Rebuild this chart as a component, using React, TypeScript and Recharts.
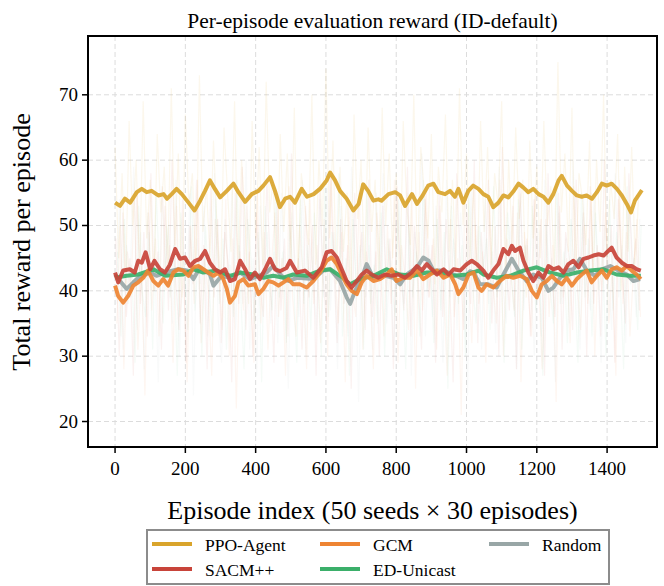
import React from 'react';
import { LineChart, Line, XAxis, YAxis, CartesianGrid } from 'recharts';

const FONT = '"Times New Roman", "Liberation Serif", Times, serif';

// Axis ticks
const xTicks = [0, 200, 400, 600, 800, 1000, 1200, 1400];
const yTicks = [20, 30, 40, 50, 60, 70];

// Raw per-episode rewards, sampled every RAW_STEP episodes (each method starts at its own offset)
const RAW_STEP = 10;
const ppoRaw = [
  62, 45, 58, 41, 66, 50, 60, 43, 69, 48, 57, 40, 64, 52, 59,
  44, 71, 47, 61, 39, 67, 53, 58, 42, 73, 49, 56, 45, 63, 50,
  41, 65, 55, 46, 69, 43, 60, 51, 38, 66, 48, 62, 44, 72, 52,
  57, 40, 64, 49, 61, 45, 68, 42, 58, 53, 47, 70, 44, 60, 50,
  74, 48, 63, 41, 59, 46, 55, 39, 67, 51, 60, 43, 65, 49, 57,
  42, 68, 50, 61, 45, 58, 40, 66, 53, 47, 70, 44, 62, 55, 48,
  64, 41, 59, 52, 67, 46, 57, 43, 71, 50, 61, 45, 56, 40, 66,
  49, 62, 44, 58, 53, 69, 42, 60, 47, 65, 51, 57, 39, 63, 48,
  59, 45, 66, 50, 56, 43, 75, 52, 61, 46, 68, 41, 58, 54, 47,
  63, 42, 60, 49, 70, 45, 57, 51, 64, 40, 59, 46, 62, 44, 55,
];
const sacmRaw = [
  48, 30, 52, 36, 45, 27, 55, 38, 49, 33, 58, 40, 46, 31, 53,
  37, 60, 42, 34, 54, 29, 50, 41, 57, 35, 47, 28, 56, 39, 51,
  32, 49, 44, 26, 55, 38, 59, 34, 46, 30, 52, 41, 36, 57, 43,
  29, 54, 37, 48, 33, 61, 40, 45, 31, 53, 39, 50, 27, 56, 42,
  35, 58, 44, 32, 51, 38, 47, 25, 55, 41, 49, 34, 57, 36, 46,
  30, 53, 40, 48, 28, 56, 43, 37, 59, 33, 50, 42, 31, 54, 39,
  47, 29, 55, 36, 51, 41, 26, 58, 44, 34, 52, 38, 60, 32, 49,
  40, 57, 35, 50, 30, 62, 45, 37, 53, 28, 56, 42, 48, 33, 54,
  39, 51, 27, 58, 43, 36, 55, 31, 49, 45, 34, 57, 40, 52, 30,
  56, 38, 47, 33, 60, 41, 50, 29, 54, 44, 35, 58, 42, 48, 37,
];
const gcmRaw = [
  35, 50, 28, 46, 39, 55, 31, 44, 24, 52, 37, 48, 33, 56, 40,
  47, 29, 53, 36, 42, 26, 50, 38, 57, 32, 45, 40, 27, 51, 43,
  34, 54, 30, 48, 22, 46, 37, 53, 41, 29, 55, 35, 49, 31, 44,
  52, 36, 45, 27, 56, 39, 33, 50, 42, 28, 54, 38, 47, 32, 51,
  30, 58, 43, 35, 49, 26, 53, 40, 36, 55, 31, 46, 41, 28, 52,
  44, 33, 50, 38, 57, 29, 47, 42, 34, 54, 25, 49, 37, 56, 39,
  48, 31, 53, 40, 27, 51, 36, 45, 21, 55, 43, 32, 50, 38, 46,
  29, 54, 41, 35, 57, 30, 48, 44, 37, 52, 26, 49, 40, 33, 55,
  42, 28, 51, 36, 47, 23, 53, 39, 45, 32, 56, 41, 34, 50, 38,
  55, 30, 46, 40, 52, 35, 44, 27, 57, 38, 49, 33, 43, 51, 36,
];
const edRaw = [
  46, 33, 51, 38, 44, 29, 53, 40, 36, 49, 31, 55, 42, 35, 50,
  39, 47, 27, 52, 43, 34, 56, 37, 45, 30, 50, 41, 33, 54, 38,
  48, 31, 44, 36, 57, 40, 28, 51, 45, 35, 49, 26, 53, 42, 37,
  55, 39, 46, 32, 50, 43, 29, 54, 38, 47, 34, 52, 41, 30, 56,
  36, 49, 42, 58, 33, 45, 27, 51, 40, 47, 31, 55, 38, 44, 35,
  52, 30, 48, 41, 36, 54, 43, 28, 50, 39, 46, 33, 57, 40, 45,
  32, 51, 37, 49, 25, 53, 44, 38, 47, 30, 55, 41, 35, 50, 43,
  48, 34, 56, 39, 45, 29, 52, 42, 36, 54, 31, 47, 40, 53, 37,
  44, 27, 50, 41, 35, 57, 38, 46, 32, 51, 43, 29, 55, 39, 48,
  33, 52, 40, 46, 30, 54, 37, 49, 42, 28, 56, 41, 45, 34, 50,
];
const randomRaw = [
  38, 54, 31, 47, 42, 59, 34, 49, 28, 52, 40, 45, 26, 56, 43,
  50, 35, 57, 30, 46, 39, 55, 24, 48, 41, 53, 33, 44, 58, 36,
  29, 51, 42, 56, 34, 47, 38, 60, 31, 45, 27, 53, 40, 49, 35,
  46, 32, 55, 41, 25, 52, 44, 36, 57, 30, 48, 43, 34, 54, 39,
  56, 37, 49, 28, 53, 42, 33, 59, 45, 23, 50, 39, 47, 31, 55,
  41, 58, 35, 46, 30, 51, 44, 38, 55, 27, 49, 42, 61, 33, 47,
  36, 53, 43, 29, 57, 39, 48, 34, 52, 44, 24, 56, 40, 50, 31,
  54, 38, 46, 32, 59, 41, 35, 50, 43, 28, 55, 37, 47, 42, 30,
  49, 33, 57, 40, 45, 26, 52, 38, 48, 35, 60, 43, 31, 54, 41,
  37, 55, 44, 29, 50, 42, 34, 58, 39, 47, 32, 53, 45, 36, 51,
];

// Smoothed reward curves: [episode, reward]
const ppoSmooth: [number, number][] = [
  [0, 53.5], [14, 53.0], [28, 54.1], [43, 53.5], [62, 55.1], [76, 55.6], [90, 55.1], [104, 55.3],
  [123, 54.6], [138, 54.8], [148, 54.1], [161, 54.8], [175, 55.6], [190, 54.8], [209, 53.5], [226, 52.3],
  [242, 53.8], [256, 55.3], [270, 56.9], [284, 55.6], [299, 54.3], [318, 55.3], [337, 56.4], [351, 55.1],
  [370, 53.6], [389, 54.8], [408, 55.3], [422, 56.1], [441, 57.4], [455, 55.3], [469, 52.8], [484, 54.1],
  [498, 54.4], [512, 53.5], [531, 55.6], [546, 54.4], [565, 54.8], [583, 55.6], [602, 56.9], [612, 58.1],
  [626, 56.9], [640, 55.3], [659, 54.1], [678, 52.3], [693, 53.3], [706, 56.3], [720, 55.3], [735, 53.8],
  [749, 54.0], [758, 53.8], [778, 54.8], [797, 55.1], [811, 54.6], [825, 53.0], [845, 54.8], [859, 53.3],
  [873, 54.4], [891, 56.1], [906, 56.4], [920, 55.1], [939, 54.8], [953, 55.3], [967, 54.4], [977, 55.6],
  [991, 53.5], [1005, 55.3], [1019, 56.1], [1034, 55.6], [1048, 54.8], [1062, 54.4], [1076, 52.8], [1091, 53.5],
  [1105, 54.6], [1119, 54.3], [1133, 55.2], [1148, 56.4], [1162, 55.8], [1176, 55.1], [1190, 55.6], [1205, 54.8],
  [1219, 54.4], [1233, 53.5], [1247, 54.8], [1262, 56.9], [1271, 57.6], [1286, 56.1], [1300, 55.3], [1314, 54.6],
  [1328, 54.4], [1342, 54.6], [1357, 54.1], [1371, 55.1], [1385, 56.4], [1399, 56.1], [1413, 56.4], [1428, 55.6],
  [1442, 54.6], [1456, 53.3], [1468, 52.0], [1479, 53.8], [1489, 54.6], [1499, 55.4],
];
const sacmSmooth: [number, number][] = [
  [0, 42.8], [9, 41.3], [23, 43.1], [42, 43.3], [56, 42.8], [66, 44.6], [76, 44.3], [87, 45.9],
  [100, 43.3], [112, 44.6], [128, 43.3], [142, 42.8], [156, 44.0], [171, 46.4], [185, 44.9], [199, 45.1],
  [213, 43.8], [228, 44.6], [242, 44.9], [256, 46.1], [270, 44.3], [284, 43.3], [299, 42.8], [313, 43.3],
  [327, 41.5], [341, 41.8], [356, 44.6], [370, 43.3], [384, 41.8], [398, 42.8], [412, 41.8], [427, 43.3],
  [441, 44.9], [455, 43.3], [469, 43.0], [488, 43.5], [498, 44.6], [517, 42.8], [540, 43.1], [564, 42.0],
  [588, 43.6], [602, 45.9], [616, 46.1], [631, 45.1], [645, 43.3], [659, 41.5], [673, 40.5], [688, 41.5],
  [702, 42.5], [716, 43.1], [730, 42.5], [749, 42.0], [768, 42.5], [787, 42.3], [806, 42.5], [825, 42.0],
  [844, 42.8], [859, 43.8], [873, 43.1], [887, 44.1], [901, 43.3], [916, 42.5], [935, 43.3], [949, 42.5],
  [963, 43.3], [982, 43.1], [1001, 44.1], [1015, 44.6], [1029, 44.1], [1048, 43.1], [1062, 42.0], [1076, 43.1],
  [1091, 44.1], [1105, 46.4], [1119, 45.6], [1129, 46.9], [1138, 46.1], [1152, 46.6], [1162, 44.6], [1176, 42.8],
  [1190, 41.5], [1205, 42.8], [1219, 42.0], [1233, 43.8], [1247, 43.3], [1262, 43.6], [1276, 42.8], [1290, 44.1],
  [1304, 44.6], [1319, 43.6], [1333, 44.9], [1347, 45.1], [1361, 45.4], [1376, 45.6], [1390, 45.4], [1403, 46.1],
  [1413, 46.6], [1427, 45.1], [1442, 44.3], [1456, 43.8], [1470, 43.8], [1484, 43.3], [1496, 43.1],
];
const gcmSmooth: [number, number][] = [
  [0, 40.8], [9, 39.2], [23, 38.2], [37, 39.2], [52, 40.8], [66, 41.3], [80, 42.0], [94, 43.1],
  [109, 41.5], [123, 40.8], [137, 41.8], [151, 40.8], [166, 42.8], [180, 43.3], [194, 43.1], [209, 42.3],
  [223, 43.6], [237, 43.8], [251, 43.3], [265, 42.8], [280, 42.3], [294, 42.8], [308, 41.8], [318, 40.3],
  [327, 38.2], [341, 39.2], [351, 41.3], [365, 41.8], [379, 40.8], [398, 41.0], [408, 39.5], [422, 40.3],
  [436, 41.5], [450, 41.3], [465, 40.8], [479, 41.3], [493, 41.8], [507, 41.0], [526, 41.0], [545, 40.5],
  [564, 41.5], [583, 42.8], [602, 44.6], [616, 45.1], [631, 44.1], [645, 42.5], [659, 41.0], [673, 40.0],
  [688, 39.5], [702, 41.3], [716, 42.3], [735, 41.5], [754, 41.8], [773, 42.5], [787, 43.3], [801, 41.5],
  [820, 42.0], [839, 42.0], [859, 43.1], [877, 41.8], [896, 42.5], [916, 43.1], [935, 42.0], [954, 42.5],
  [968, 41.0], [977, 39.5], [991, 40.5], [1006, 42.5], [1020, 42.8], [1034, 40.5], [1043, 40.0], [1057, 41.0],
  [1076, 40.5], [1095, 41.5], [1114, 42.3], [1133, 42.0], [1152, 42.3], [1171, 41.8], [1186, 40.0], [1200, 39.0],
  [1214, 41.0], [1228, 41.5], [1243, 42.3], [1257, 41.5], [1271, 41.0], [1285, 42.0], [1300, 40.8], [1314, 41.8],
  [1328, 42.5], [1342, 43.1], [1356, 41.3], [1371, 42.3], [1385, 43.1], [1399, 42.0], [1413, 43.3], [1427, 43.6],
  [1442, 43.1], [1456, 43.8], [1470, 43.1], [1484, 42.5], [1496, 41.8],
];
const edSmooth: [number, number][] = [
  [0, 42.0], [33, 42.3], [66, 42.5], [109, 43.3], [142, 42.3], [194, 42.5], [223, 43.3], [251, 42.8],
  [289, 43.1], [327, 42.3], [356, 42.8], [393, 42.5], [422, 42.0], [450, 42.3], [479, 42.0], [507, 42.5],
  [545, 42.3], [583, 43.1], [612, 43.3], [640, 42.3], [669, 41.0], [697, 41.8], [735, 42.3], [773, 43.3],
  [811, 42.5], [849, 42.3], [887, 42.8], [925, 42.8], [963, 42.3], [1001, 42.5], [1034, 43.1], [1048, 42.5],
  [1086, 42.0], [1124, 42.3], [1162, 43.1], [1200, 43.6], [1238, 42.8], [1276, 42.3], [1314, 42.8], [1352, 43.1],
  [1390, 43.3], [1427, 42.5], [1465, 42.3], [1496, 42.3],
];
const randomSmooth: [number, number][] = [
  [0, 42.5], [14, 41.5], [33, 40.3], [52, 41.3], [66, 42.0], [99, 42.8], [118, 42.3], [142, 42.8],
  [180, 43.3], [204, 43.1], [223, 41.8], [242, 43.6], [270, 42.5], [280, 40.8], [303, 42.3], [327, 42.0],
  [356, 42.8], [384, 41.8], [408, 42.3], [431, 42.8], [450, 43.8], [474, 42.3], [493, 41.5], [517, 42.0],
  [564, 41.8], [593, 43.1], [612, 43.3], [640, 41.5], [659, 39.0], [669, 38.0], [683, 40.0], [702, 42.0],
  [716, 44.1], [735, 42.0], [754, 42.5], [792, 42.0], [811, 41.0], [830, 42.5], [859, 43.6], [877, 45.1],
  [892, 44.6], [906, 43.1], [935, 43.1], [963, 42.5], [991, 41.8], [1010, 43.0], [1020, 42.8], [1038, 41.0],
  [1062, 41.0], [1086, 40.5], [1105, 42.5], [1129, 44.9], [1148, 43.1], [1171, 41.5], [1190, 42.5], [1214, 42.0],
  [1233, 40.0], [1247, 40.5], [1266, 42.0], [1285, 43.1], [1304, 43.3], [1323, 44.9], [1342, 43.1], [1366, 42.3],
  [1385, 43.3], [1409, 43.8], [1432, 43.1], [1456, 42.5], [1475, 41.5], [1494, 41.8],
];

const COLORS = {
  ppo: '#D9A42B',
  sacm: '#C8443A',
  gcm: '#EE8432',
  ed: '#3BAF6A',
  random: '#98A6A6',
};

const toPoints = (pairs: [number, number][]) => pairs.map(([ep, r]) => ({ ep, r }));
const rawPoints = (vals: number[], offset: number) => vals.map((r, i) => ({ ep: offset + i * RAW_STEP, r }));

const legendItems = [
  { name: 'PPO-Agent', color: COLORS.ppo, col: 0, row: 0 },
  { name: 'SACM++', color: COLORS.sacm, col: 0, row: 1 },
  { name: 'GCM', color: COLORS.gcm, col: 1, row: 0 },
  { name: 'ED-Unicast', color: COLORS.ed, col: 1, row: 1 },
  { name: 'Random', color: COLORS.random, col: 2, row: 0 },
];
const legendColX = [152, 320, 489];
const legendRowY = [544, 569];

const PLOT = { left: 88, top: 36, right: 657, bottom: 447 };

const XTick = (props: any) => {
  const { x, y, payload } = props;
  return (
    <text x={x} y={y} dy={18} textAnchor="middle" style={{ fontFamily: FONT, fontSize: 19, fill: '#000' }}>
      {payload.value}
    </text>
  );
};
const YTick = (props: any) => {
  const { x, y, payload } = props;
  return (
    <text x={x} y={y} dy={6} textAnchor="end" style={{ fontFamily: FONT, fontSize: 19, fill: '#000' }}>
      {payload.value}
    </text>
  );
};

export default function App() {
  const tickLine = { stroke: '#000', strokeWidth: 1.5 };
  const rawLine = (vals: number[], offset: number, color: string, opacity: number) => (
    <Line
      data={rawPoints(vals, offset)}
      dataKey="r"
      stroke={color}
      strokeOpacity={opacity}
      strokeWidth={1.2}
      dot={false}
      isAnimationActive={false}
    />
  );
  const smoothLine = (pairs: [number, number][], color: string) => (
    <Line
      data={toPoints(pairs)}
      dataKey="r"
      stroke={color}
      strokeOpacity={0.92}
      strokeWidth={4}
      strokeLinejoin="round"
      dot={false}
      isAnimationActive={false}
    />
  );
  return (
    <div
      style={{
        position: 'absolute',
        left: 0,
        top: 0,
        width: 664,
        height: 586,
        background: '#fff',
        fontFamily: FONT,
        color: '#000',
        overflow: 'hidden',
      }}
    >
      <div
        style={{
          position: 'absolute',
          left: PLOT.left,
          width: PLOT.right - PLOT.left,
          top: 10,
          textAlign: 'center',
          fontSize: 21.5,
          lineHeight: '22px',
          whiteSpace: 'nowrap',
        }}
      >
        Per-episode evaluation reward (ID-default)
      </div>

      <LineChart width={664} height={586} margin={{ top: 36, right: 7, bottom: 99, left: 28 }}>
        <CartesianGrid strokeDasharray="5 3" stroke="#dcdcdc" strokeWidth={1} />
        <XAxis
          type="number"
          dataKey="ep"
          domain={[-77, 1542]}
          ticks={xTicks}
          allowDataOverflow
          axisLine={false}
          tickLine={tickLine}
          tickSize={6}
          tickMargin={4}
          height={40}
          tick={<XTick />}
        />
        <YAxis
          type="number"
          dataKey="r"
          domain={[16.1, 79]}
          ticks={yTicks}
          allowDataOverflow
          axisLine={false}
          tickLine={tickLine}
          tickSize={6}
          tickMargin={4}
          width={60}
          tick={<YTick />}
        />
        {rawLine(randomRaw, 3, COLORS.random, 0.06)}
        {rawLine(edRaw, 7, COLORS.ed, 0.05)}
        {rawLine(gcmRaw, 5, COLORS.gcm, 0.07)}
        {rawLine(sacmRaw, 2, COLORS.sacm, 0.07)}
        {rawLine(ppoRaw, 0, COLORS.ppo, 0.09)}
        {smoothLine(randomSmooth, COLORS.random)}
        {smoothLine(edSmooth, COLORS.ed)}
        {smoothLine(gcmSmooth, COLORS.gcm)}
        {smoothLine(sacmSmooth, COLORS.sacm)}
        {smoothLine(ppoSmooth, COLORS.ppo)}
      </LineChart>

      {/* plot frame */}
      <div
        style={{
          position: 'absolute',
          left: PLOT.left - 1,
          top: PLOT.top - 1,
          width: PLOT.right - PLOT.left + 2,
          height: PLOT.bottom - PLOT.top + 2,
          border: '2px solid #000',
          boxSizing: 'border-box',
          pointerEvents: 'none',
        }}
      />

      {/* y axis label */}
      <div
        style={{
          position: 'absolute',
          left: 22,
          top: (PLOT.top + PLOT.bottom) / 2,
          transform: 'translate(-50%, -50%) rotate(-90deg)',
          fontSize: 26,
          lineHeight: '26px',
          whiteSpace: 'nowrap',
        }}
      >
        Total reward per episode
      </div>

      {/* x axis label */}
      <div
        style={{
          position: 'absolute',
          left: PLOT.left,
          width: PLOT.right - PLOT.left,
          top: 498,
          textAlign: 'center',
          fontSize: 26,
          lineHeight: '26px',
          whiteSpace: 'nowrap',
        }}
      >
        Episode index (50 seeds × 30 episodes)
      </div>

      {/* legend */}
      <div
        style={{
          position: 'absolute',
          left: 146,
          top: 529,
          width: 464,
          height: 56,
          border: '2px solid #8c8c8c',
          boxSizing: 'border-box',
          background: '#fff',
        }}
      />
      {legendItems.map((it) => (
        <React.Fragment key={it.name}>
          <div
            style={{
              position: 'absolute',
              left: legendColX[it.col],
              top: legendRowY[it.row] - 2,
              width: 40,
              height: 4,
              background: it.color,
            }}
          />
          <div
            style={{
              position: 'absolute',
              left: legendColX[it.col] + 53,
              top: legendRowY[it.row] - 7,
              fontSize: 17.5,
              lineHeight: '17.5px',
              whiteSpace: 'nowrap',
            }}
          >
            {it.name}
          </div>
        </React.Fragment>
      ))}
    </div>
  );
}
